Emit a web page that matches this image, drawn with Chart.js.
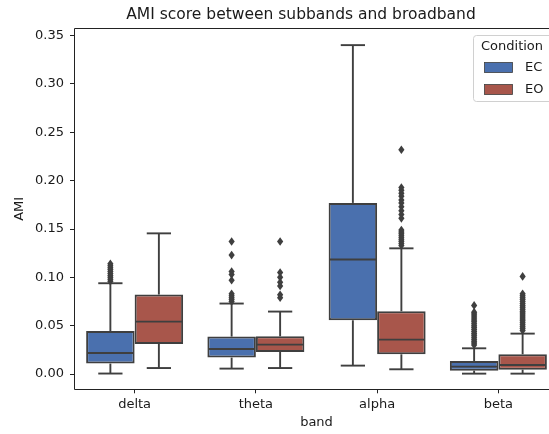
<!DOCTYPE html>
<html>
<head>
<meta charset="utf-8">
<script src="https://cdn.jsdelivr.net/npm/chart.js"></script>
<style>
    html, body { margin: 0; padding: 0; background: #fff; overflow: hidden; }
</style>
</head>
<body>
<canvas id="amiChart" width="549" height="434"></canvas>
<script>
const bands = ['delta', 'theta', 'alpha', 'beta'];
const conditions = ['EC', 'EO'];
const yTicks = [0, 0.05, 0.10, 0.15, 0.20, 0.25, 0.30, 0.35];
const chartTitle = 'AMI score between subbands and broadband';

// box stats per band (delta, theta, alpha, beta)
const ecLow = [0.0005, 0.0056, 0.0087, 0.0004];
const ecQ1 = [0.0108, 0.0170, 0.0556, 0.0035];
const ecMedian = [0.0218, 0.0259, 0.1184, 0.0077];
const ecQ3 = [0.0445, 0.0387, 0.1770, 0.0135];
const ecHigh = [0.0939, 0.0729, 0.3402, 0.0266];

const eoLow = [0.0062, 0.0062, 0.0049, 0.0004];
const eoQ1 = [0.0311, 0.0228, 0.0204, 0.0045];
const eoMedian = [0.0542, 0.0304, 0.0356, 0.0093];
const eoQ3 = [0.0822, 0.0390, 0.0649, 0.0204];
const eoHigh = [0.1455, 0.0646, 0.1300, 0.0418];

const ecOutliers = [
    [0.096, 0.098, 0.100, 0.102, 0.104, 0.106, 0.108, 0.110, 0.112, 0.114],
    [0.137, 0.123, 0.106, 0.103, 0.097, 0.083, 0.081, 0.079, 0.077, 0.075],
    [],
    [0.071, 0.064, 0.062, 0.060, 0.058, 0.056, 0.054, 0.052, 0.050, 0.048,
     0.046, 0.044, 0.042, 0.040, 0.038, 0.036, 0.034, 0.032, 0.030]
];
const eoOutliers = [
    [],
    [0.137, 0.105, 0.100, 0.095, 0.091, 0.082, 0.079],
    [0.232, 0.193, 0.190, 0.187, 0.184, 0.180, 0.177, 0.173, 0.169, 0.165, 0.161,
     0.149, 0.147, 0.145, 0.143, 0.141, 0.139, 0.137, 0.135, 0.133],
    [0.101, 0.083, 0.081, 0.079, 0.077, 0.075, 0.073, 0.071, 0.069, 0.067, 0.065,
     0.063, 0.061, 0.059, 0.057, 0.055, 0.053, 0.051, 0.049, 0.047, 0.045]
];

const blue = '#4a70ae';
const red = '#a8564b';
const lineGray = '#3f3f3f';
const textColor = '#1a1a1a';
const plotRight = 559; // the original axes run past the right edge of the picture

const boxStats = [
    {low: ecLow, median: ecMedian, high: ecHigh, q1: ecQ1, q3: ecQ3, fliers: ecOutliers},
    {low: eoLow, median: eoMedian, high: eoHigh, q1: eoQ1, q3: eoQ3, fliers: eoOutliers}
];

// stretch the x axis past the canvas edge, like the cropped original
const stretchPlugin = {
    id: 'stretch',
    afterLayout(chart) {
        const x = chart.scales.x;
        x.right = plotRight;
        x.width = x.right - x.left;
        x.configure();
        chart.chartArea.right = plotRight;
        chart.chartArea.width = plotRight - chart.chartArea.left;
    }
};

// whiskers, caps, medians and fliers, placed from the bar elements and the y scale
const whiskerPlugin = {
    id: 'whiskers',
    afterDatasetsDraw(chart) {
        const ctx = chart.ctx;
        const y = chart.scales.y;
        ctx.save();
        ctx.strokeStyle = lineGray;
        ctx.fillStyle = lineGray;
        ctx.lineWidth = 1.9;
        const line = (x1, y1, x2, y2) => {
            ctx.beginPath();
            ctx.moveTo(x1, y1);
            ctx.lineTo(x2, y2);
            ctx.stroke();
        };
        boxStats.forEach((st, di) => {
            const meta = chart.getDatasetMeta(di);
            meta.data.forEach((bar, i) => {
                const x = bar.x, w = bar.width;
                const yHigh = y.getPixelForValue(st.high[i]);
                const yLow = y.getPixelForValue(st.low[i]);
                const yMed = y.getPixelForValue(st.median[i]);
                line(x, y.getPixelForValue(st.q3[i]), x, yHigh);
                line(x, y.getPixelForValue(st.q1[i]), x, yLow);
                line(x - w / 4, yHigh, x + w / 4, yHigh);
                line(x - w / 4, yLow, x + w / 4, yLow);
                line(x - w / 2 + 1, yMed, x + w / 2 - 1, yMed);
                st.fliers[i].forEach(v => {
                    const py = y.getPixelForValue(v);
                    ctx.beginPath();
                    ctx.moveTo(x, py - 4.3);
                    ctx.lineTo(x + 3.1, py);
                    ctx.lineTo(x, py + 4.3);
                    ctx.lineTo(x - 3.1, py);
                    ctx.closePath();
                    ctx.fill();
                });
            });
        });
        ctx.restore();
    }
};

const framePlugin = {
    id: 'frame',
    afterDraw(chart) {
        const {ctx, chartArea: a} = chart;
        ctx.save();
        ctx.strokeStyle = '#222';
        ctx.lineWidth = 1;
        const l = Math.round(a.left) + 0.5, t = Math.round(a.top) + 0.5, b = Math.round(a.bottom) + 0.5;
        ctx.beginPath();
        ctx.moveTo(chart.width + 2, t);
        ctx.lineTo(l, t);
        ctx.lineTo(l, b);
        ctx.lineTo(chart.width + 2, b);
        ctx.stroke();

        // title, centred like the original
        ctx.fillStyle = textColor;
        ctx.font = '15.5px "DejaVu Sans"';
        ctx.textAlign = 'center';
        ctx.textBaseline = 'middle';
        ctx.fillText(chartTitle, 301, 15);

        // legend box (runs off the right edge like the original)
        ctx.fillStyle = 'rgba(255,255,255,0.85)';
        ctx.strokeStyle = '#d0d0d0';
        ctx.beginPath();
        ctx.roundRect(473.5, 35.5, 100, 66, 3);
        ctx.fill();
        ctx.stroke();
        ctx.fillStyle = textColor;
        ctx.font = '13px "DejaVu Sans"';
        ctx.textAlign = 'left';
        ctx.fillText('Condition', 481, 46.5);
        [blue, red].forEach((col, k) => {
            const cy = 67.5 + k * 22;
            ctx.fillStyle = col;
            ctx.fillRect(484.5, cy - 5, 28, 10);
            ctx.strokeStyle = lineGray;
            ctx.lineWidth = 0.8;
            ctx.strokeRect(484.5, cy - 5, 28, 10);
            ctx.fillStyle = textColor;
            ctx.fillText(conditions[k], 525, cy);
        });
        ctx.restore();
    }
};

const tickFont = {family: 'DejaVu Sans', size: 13};

new Chart(document.getElementById('amiChart'), {
    type: 'bar',
    data: {
        labels: bands,
        datasets: [
            {
                label: 'EC',
                data: ecQ1.map((q, i) => [q, ecQ3[i]]),
                backgroundColor: blue,
                borderColor: lineGray,
                borderWidth: 2,
                borderSkipped: false,
                categoryPercentage: 0.8,
                barPercentage: 1.0
            },
            {
                label: 'EO',
                data: eoQ1.map((q, i) => [q, eoQ3[i]]),
                backgroundColor: red,
                borderColor: lineGray,
                borderWidth: 2,
                borderSkipped: false,
                categoryPercentage: 0.8,
                barPercentage: 1.0
            }
        ]
    },
    options: {
        responsive: false,
        animation: false,
        layout: {padding: {left: 0, right: 0, top: 28.3, bottom: 0}},
        plugins: {
            legend: {display: false},
            tooltip: {enabled: false},
            title: {display: false}
        },
        scales: {
            x: {
                type: 'category',
                offset: true,
                grid: {display: true, drawOnChartArea: false, drawTicks: true, tickLength: 4,
                       offset: false, color: '#222', tickColor: '#222'},
                border: {display: false},
                ticks: {color: textColor, font: tickFont, padding: 4},
                title: {display: true, text: 'band', color: textColor, font: tickFont,
                        padding: {top: 2, bottom: 3.2}},
                afterFit(scale) { scale.height = 44.7; }
            },
            y: {
                type: 'linear',
                min: -0.0158,
                max: 0.3576,
                afterBuildTicks(scale) { scale.ticks = yTicks.map(v => ({value: v})); },
                grid: {display: true, drawOnChartArea: false, drawTicks: true, tickLength: 4,
                       color: '#222', tickColor: '#222'},
                border: {display: false},
                ticks: {color: textColor, font: tickFont, padding: 6,
                        callback: v => v.toFixed(2)},
                title: {display: true, text: 'AMI', color: textColor, font: tickFont,
                        padding: {top: 12.2, bottom: 0}},
                afterFit(scale) { scale.width = 74; }
            }
        }
    },
    plugins: [stretchPlugin, whiskerPlugin, framePlugin]
});
</script>
</body>
</html>
